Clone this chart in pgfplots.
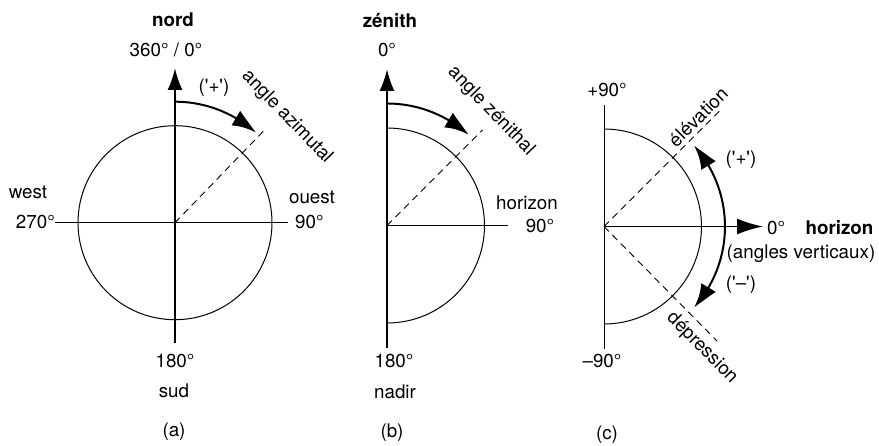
\documentclass[border=0pt]{standalone}
\usepackage{pgfplots}
\pgfplotsset{compat=1.18}
\usepackage{fontspec}
\newfontfamily\hv{TeX Gyre Heros}
\usetikzlibrary{arrows.meta,bending}
\begin{document}
\hv\fontsize{18.8}{22}\selectfont
\begin{tikzpicture}[font=\hv\fontsize{18.8}{22}\selectfont, every node/.append style={inner sep=0pt}]
\useasboundingbox (0,0) rectangle (879pt,445pt);
\begin{axis}[at={(0,0)}, anchor=south west, scale only axis,
  width=879pt, height=445pt, xmin=0, xmax=879, ymin=0, ymax=445,
  hide axis, clip=false]
% ---------- panel (a) ----------
\draw[line width=1pt] (axis cs:175,222.3) circle[radius=97];
\addplot[line width=1.3pt, no markers] coordinates {(55,222.3) (288,222.3)};
\addplot[line width=2.2pt, no markers, -{Latex[length=22pt,width=15pt]}] coordinates {(175,102) (175,377)};
\addplot[line width=0.9pt, no markers, dash pattern=on 7pt off 5pt] coordinates {(175,222.3) (265.3,315.8)};
\draw[line width=2pt, -{Latex[length=25pt,width=17pt,bend]}] (axis cs:175,343.3) arc[start angle=90, end angle=48, radius=121];
\node[anchor=base, font=\hv\bfseries\fontsize{18.8}{22}\selectfont] at (axis cs:173,418) {nord};
\node[anchor=base] at (axis cs:166,388) {360° / 0°};
\node at (axis cs:214,357) {('+')};
\node[rotate=-46] at (axis cs:287,328) {angle azimutal};
\node[anchor=base] at (axis cs:28,246) {west};
\node[anchor=base east] at (axis cs:55,216) {270°};
\node[anchor=base] at (axis cs:312,241) {ouest};
\node[anchor=base west] at (axis cs:295,216) {90°};
\node[anchor=base] at (axis cs:175,78) {180°};
\node[anchor=base] at (axis cs:174,48) {sud};
\node at (axis cs:174,13) {(a)};
% ---------- panel (b) ----------
\draw[line width=1pt] (axis cs:387,317) arc[start angle=90, end angle=-90, radius=97.5];
\addplot[line width=1.3pt, no markers] coordinates {(387,219.5) (508,219.5)};
\addplot[line width=2.2pt, no markers, -{Latex[length=22pt,width=15pt]}] coordinates {(387,97) (387,376)};
\addplot[line width=0.9pt, no markers, dash pattern=on 7pt off 5pt] coordinates {(387,219.5) (482.5,315)};
\draw[line width=2pt, -{Latex[length=25pt,width=17pt,bend]}] (axis cs:387,341.5) arc[start angle=90, end angle=48, radius=122];
\node[anchor=base, font=\hv\bfseries\fontsize{18.8}{22}\selectfont] at (axis cs:390,417) {zénith};
\node[anchor=base] at (axis cs:387,388) {0°};
\node[rotate=-46] at (axis cs:491,334) {angle zénithal};
\node[anchor=base] at (axis cs:527,235) {horizon};
\node[anchor=base] at (axis cs:540,212) {90°};
\node[anchor=base] at (axis cs:394,78) {180°};
\node[anchor=base] at (axis cs:395,47) {nadir};
\node at (axis cs:392,12) {(b)};
% ---------- panel (c) ----------
\addplot[line width=1pt, no markers] coordinates {(604,96) (604,340)};
\draw[line width=1pt] (axis cs:604,316) arc[start angle=90, end angle=-90, radius=97.5];
\addplot[line width=0.9pt, no markers, dash pattern=on 7pt off 5pt] coordinates {(604,218.5) (721.4,335.9)};
\addplot[line width=0.9pt, no markers, dash pattern=on 7pt off 5pt] coordinates {(604,218.5) (717,104)};
\addplot[line width=1.8pt, no markers, -{Latex[length=26pt,width=16pt]}] coordinates {(604,218.5) (763,218.5)};
\draw[line width=2pt, {Latex[length=25pt,width=17pt,bend]}-{Latex[length=25pt,width=17pt,bend]}] (axis cs:693.9,137.5) arc[start angle=-42, end angle=42, radius=121];
\node[anchor=base] at (axis cs:607,348) {+90°};
\node[anchor=base] at (axis cs:602,78) {–90°};
\node[rotate=45] at (axis cs:698,328) {élévation};
\node[rotate=-45] at (axis cs:702,97) {dépression};
\node at (axis cs:741,285) {('+')};
\node at (axis cs:741,160) {('–')};
\node[anchor=base west] at (axis cs:767,210) {0°};
\node[anchor=base, font=\hv\bfseries\fontsize{18.8}{22}\selectfont] at (axis cs:839.5,210) {horizon};
\node[anchor=base] at (axis cs:801,186) {(angles verticaux)};
\node at (axis cs:607,10) {(c)};
\end{axis}
\end{tikzpicture}
\end{document}
